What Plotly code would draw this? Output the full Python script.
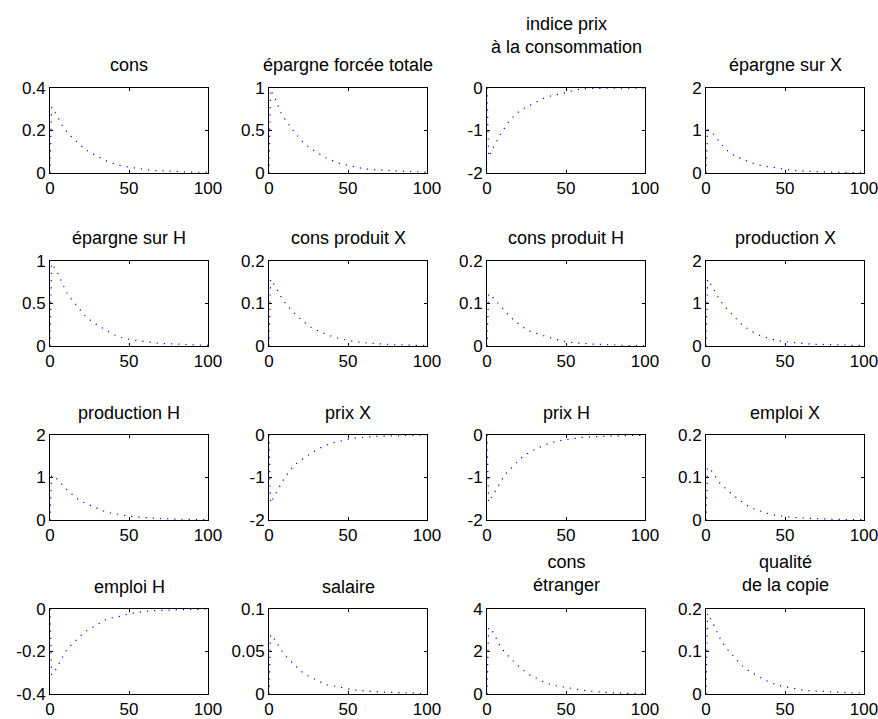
import plotly.graph_objects as go

# ---------------- data ----------------
t = [0, 1, 4, 6, 8, 11, 14, 18, 22, 27, 32, 36, 41, 45, 50, 55, 60, 65, 70, 80, 90, 100]

titles = [
    "cons", "épargne forcée totale", "indice prix<br>à la consommation", "épargne sur X",
    "épargne sur H", "cons produit X", "cons produit H", "production X",
    "production H", "prix X", "prix H", "emploi X",
    "emploi H", "salaire", "cons<br>étranger", "qualité<br>de la copie",
]

cons = [0, 0.31, 0.275, 0.245, 0.22, 0.192, 0.167, 0.14, 0.112, 0.09, 0.071, 0.056, 0.043, 0.034, 0.028, 0.022, 0.016, 0.012, 0.011, 0.007, 0.004, 0.003]
epargne_forcee = [0, 0.98, 0.87, 0.77, 0.69, 0.61, 0.53, 0.44, 0.35, 0.28, 0.22, 0.18, 0.14, 0.11, 0.09, 0.07, 0.05, 0.04, 0.035, 0.022, 0.014, 0.009]
indice_prix = [0, -1.62, -1.4, -1.25, -1.12, -0.95, -0.78, -0.62, -0.51, -0.41, -0.31, -0.24, -0.18, -0.15, -0.11, -0.05, -0.02, -0.01, -0.005, -0.003, -0.002, -0.001]
epargne_x = [0, 1.02, 0.95, 0.85, 0.75, 0.62, 0.51, 0.41, 0.34, 0.27, 0.2, 0.17, 0.14, 0.11, 0.08, 0.06, 0.045, 0.035, 0.028, 0.018, 0.01, 0.006]
epargne_h = [0, 0.97, 0.89, 0.81, 0.72, 0.61, 0.54, 0.45, 0.36, 0.28, 0.22, 0.18, 0.13, 0.1, 0.08, 0.065, 0.05, 0.04, 0.03, 0.02, 0.012, 0.008]
cons_prod_x = [0, 0.157, 0.14, 0.126, 0.113, 0.097, 0.085, 0.07, 0.057, 0.043, 0.034, 0.028, 0.021, 0.017, 0.013, 0.01, 0.008, 0.006, 0.005, 0.003, 0.002, 0.001]
cons_prod_h = [0, 0.123, 0.113, 0.105, 0.096, 0.083, 0.071, 0.058, 0.046, 0.035, 0.028, 0.024, 0.018, 0.014, 0.01, 0.008, 0.006, 0.005, 0.004, 0.002, 0.001, 0.001]
production_x = [0, 1.57, 1.39, 1.25, 1.13, 0.96, 0.84, 0.68, 0.53, 0.39, 0.28, 0.22, 0.17, 0.13, 0.1, 0.08, 0.06, 0.05, 0.04, 0.025, 0.015, 0.01]
production_h = [0, 1.05, 0.98, 0.91, 0.82, 0.7, 0.6, 0.48, 0.4, 0.32, 0.23, 0.18, 0.15, 0.12, 0.09, 0.07, 0.055, 0.045, 0.035, 0.02, 0.012, 0.008]
prix_x = [0, -1.6, -1.4, -1.25, -1.12, -0.95, -0.8, -0.65, -0.54, -0.42, -0.31, -0.24, -0.18, -0.14, -0.1, -0.07, -0.05, -0.04, -0.03, -0.015, -0.008, -0.005]
prix_h = [0, -1.58, -1.4, -1.27, -1.13, -0.95, -0.83, -0.69, -0.53, -0.4, -0.32, -0.24, -0.18, -0.14, -0.11, -0.08, -0.06, -0.045, -0.035, -0.02, -0.01, -0.006]
emploi_x = [0, 0.124, 0.114, 0.101, 0.09, 0.079, 0.069, 0.056, 0.045, 0.032, 0.024, 0.019, 0.013, 0.011, 0.008, 0.006, 0.005, 0.004, 0.003, 0.002, 0.001, 0.001]
emploi_h = [0, -0.31, -0.282, -0.252, -0.225, -0.187, -0.163, -0.136, -0.108, -0.085, -0.064, -0.047, -0.039, -0.034, -0.022, -0.015, -0.011, -0.008, -0.006, -0.004, -0.002, -0.001]
salaire = [0, 0.07, 0.063, 0.057, 0.051, 0.044, 0.038, 0.031, 0.024, 0.019, 0.014, 0.011, 0.0095, 0.0078, 0.006, 0.0045, 0.0035, 0.003, 0.0025, 0.0015, 0.001, 0.0006]
cons_etranger = [0, 3.13, 2.9, 2.6, 2.3, 1.98, 1.74, 1.45, 1.17, 0.9, 0.72, 0.56, 0.43, 0.37, 0.31, 0.25, 0.18, 0.14, 0.1, 0.05, 0.03, 0.02]
qualite_copie = [0, 0.19, 0.17, 0.152, 0.137, 0.118, 0.103, 0.086, 0.069, 0.055, 0.044, 0.035, 0.027, 0.021, 0.017, 0.013, 0.01, 0.008, 0.007, 0.004, 0.003, 0.002]

series = [cons, epargne_forcee, indice_prix, epargne_x,
          epargne_h, cons_prod_x, cons_prod_h, production_x,
          production_h, prix_x, prix_h, emploi_x,
          emploi_h, salaire, cons_etranger, qualite_copie]

y_tickvals = [
    [0, 0.2, 0.4], [0, 0.5, 1], [-2, -1, 0], [0, 1, 2],
    [0, 0.5, 1], [0, 0.1, 0.2], [0, 0.1, 0.2], [0, 1, 2],
    [0, 1, 2], [-2, -1, 0], [-2, -1, 0], [0, 0.1, 0.2],
    [-0.4, -0.2, 0], [0, 0.05, 0.1], [0, 2, 4], [0, 0.1, 0.2],
]
y_ticktext = [
    ["0", "0.2", "0.4"], ["0", "0.5", "1"], ["-2", "-1", "0"], ["0", "1", "2"],
    ["0", "0.5", "1"], ["0", "0.1", "0.2"], ["0", "0.1", "0.2"], ["0", "1", "2"],
    ["0", "1", "2"], ["-2", "-1", "0"], ["-2", "-1", "0"], ["0", "0.1", "0.2"],
    ["-0.4", "-0.2", "0"], ["0", "0.05", "0.1"], ["0", "2", "4"], ["0", "0.1", "0.2"],
]
x_tickvals = [0, 50, 100]
x_ticktext = ["0", "50", "100"]

# ---------------- layout ----------------
W, H = 878, 719
col_px = [(50, 208), (269, 427), (487, 645), (706, 864)]
row_px = [(88, 173), (261, 346), (435, 520), (609, 694)]
title_gap = [10.5] * 16
title_gap[2] = 29.5
title_gap[14] = 12
title_gap[15] = 12

FONT = "Liberation Sans, Arial, sans-serif"
fig = go.Figure()
layout = dict(
    width=W, height=H, margin=dict(l=0, r=0, t=0, b=0, pad=0),
    paper_bgcolor="white", plot_bgcolor="white", showlegend=False,
    font=dict(family=FONT, size=17, color="black"),
)
annotations = []
for i in range(16):
    r, c = divmod(i, 4)
    k = "" if i == 0 else str(i + 1)
    x0, x1 = col_px[c]
    y0, y1 = row_px[r]
    fig.add_trace(go.Scatter(
        x=t, y=series[i], mode="lines", xaxis="x" + k, yaxis="y" + k,
        line=dict(color="#0000ff", width=1.2, dash="1.2px,6px"),
        hoverinfo="skip",
    ))
    common = dict(showline=True, linecolor="black", linewidth=1, mirror="ticks",
                  ticks="inside", ticklen=3, tickcolor="black", tickwidth=1,
                  showgrid=False, zeroline=False, automargin=False,
                  ticklabeloverflow="allow",
                  tickfont=dict(size=17, family=FONT))
    layout["xaxis" + k] = dict(domain=[x0 / W, x1 / W], range=[0, 100], anchor="y" + k,
                               tickmode="array", tickvals=x_tickvals, ticktext=x_ticktext, **common)
    yv = y_tickvals[i]
    layout["yaxis" + k] = dict(domain=[1 - y1 / H, 1 - y0 / H], range=[yv[0], yv[-1]], anchor="x" + k,
                               tickmode="array", tickvals=yv, ticktext=y_ticktext[i], **common)
    annotations.append(dict(
        text=titles[i], xref="paper", yref="paper", x=(x0 + x1) / 2 / W,
        y=1 - (y0 - title_gap[i]) / H, xanchor="center", yanchor="bottom",
        showarrow=False, font=dict(size=18, family=FONT, color="black"),
    ))
layout["annotations"] = annotations
fig.update_layout(**layout)
fig.write_html(
    "out.html",
    config={"displayModeBar": False},
    post_script="document.body.style.margin='0';document.body.style.padding='0';document.body.style.overflow='hidden';",
)
